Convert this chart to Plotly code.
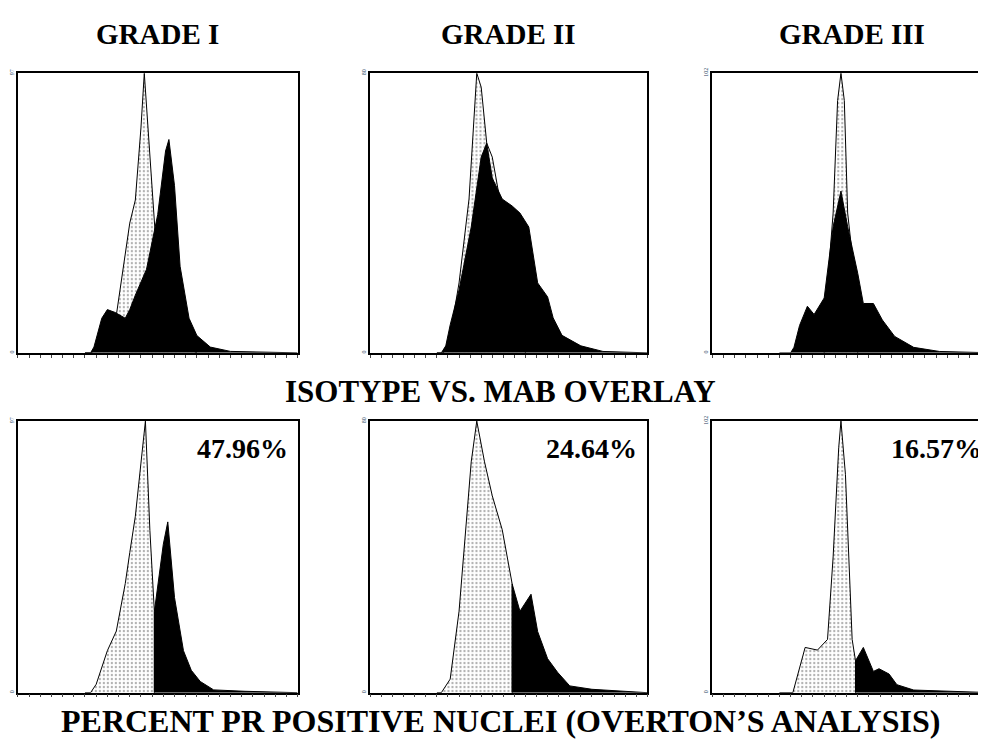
import plotly.graph_objects as go
from plotly.subplots import make_subplots

# ---------- data (channel 0-250, counts) ----------
# row 1: isotype vs MAb overlay
g1_iso_ch = [60, 65, 70, 80, 88, 96, 100, 105, 110, 113, 116, 120, 123, 128, 135, 145, 160]
g1_iso_ct = [0, 0, 1, 8, 13, 34, 45, 53, 78, 97, 80, 60, 40, 20, 8, 3, 0]
g1_mab_ch = [60, 65, 68, 75, 80, 87, 96, 100, 105, 115, 125, 132, 135, 140, 145, 153, 160, 172, 190, 250]
g1_mab_ct = [0, 0, 2, 12, 15, 14, 12, 15, 20, 29, 48, 70, 74, 58, 30, 12, 6, 2, 0.5, 0]

g2_iso_ch = [60, 66, 72, 80, 89, 94, 96, 100, 105, 110, 119, 128, 140]
g2_iso_ct = [0, 0, 5, 20, 44, 68, 80, 76, 60, 56, 40, 38, 0]
g2_mab_ch = [60, 64, 68, 72, 80, 91, 100, 105, 110, 119, 128, 135, 143, 151, 160, 165, 173, 190, 210, 250]
g2_mab_ct = [0, 0, 2, 8, 18, 36, 56, 60, 50, 44, 42, 40, 36, 20, 16, 10, 5, 2, 0.4, 0]

g3_iso_ch = [100, 104, 108, 112, 115, 118, 121, 125, 130]
g3_iso_ct = [0, 30, 51, 92, 102, 92, 51, 36, 0]
g3_mab_ch = [60, 70, 73, 78, 85, 91, 100, 108, 115, 121, 130, 135, 144, 152, 163, 180, 203, 250]
g3_mab_ct = [0, 0, 2, 10, 17, 14, 20, 46, 59, 46, 29, 18, 18, 12, 6, 2, 0.5, 0]

# row 2: Overton subtraction (gate splits negative / positive part)
o1_ch = [60, 65, 70, 80, 88, 96, 100, 105, 110, 114, 118, 122, 130, 134, 140, 148, 155, 163, 175, 203, 250]
o1_ct = [0, 0, 3, 15, 22, 39, 50, 63, 82, 97, 58, 29, 53, 61, 34, 15, 8, 4, 1, 0.5, 0]
o1_gate = 122

o2_ch = [60, 64, 72, 80, 91, 96, 103, 110, 119, 128, 135, 145, 151, 160, 169, 180, 200, 250]
o2_ct = [0, 0, 4, 24, 68, 80, 68, 58, 48, 32, 24, 29, 18, 10, 6, 2, 1, 0]
o2_gate = 128

o3_ch = [60, 72, 83, 94, 103, 108, 113, 115, 119, 125, 128, 135, 144, 149, 158, 165, 180, 250]
o3_ct = [0, 0, 17, 16, 20, 51, 92, 102, 82, 20, 12, 17, 8, 9, 7, 3, 1, 0]
o3_gate = 128

y_max = [97, 80, 102]
titles = ["GRADE I", "GRADE II", "GRADE III"]
percents = ["47.96%", "24.64%", "16.57%"]

SERIF = "Liberation Serif, Times New Roman, serif"
STIPPLE = dict(shape=".", fgcolor="#555555", bgcolor="white", size=4, solidity=0.25)

fig = make_subplots(rows=2, cols=3)


def add_fill(x, y, row, col, black):
    if black:
        fig.add_trace(go.Scatter(x=x, y=y, mode="lines", fill="tozeroy", fillcolor="black",
                                 line=dict(color="black", width=1)), row=row, col=col)
    else:
        fig.add_trace(go.Scatter(x=x, y=y, mode="lines", fill="tozeroy", fillcolor="white",
                                 fillpattern=STIPPLE, line=dict(color="black", width=1)),
                      row=row, col=col)


overlay = [(g1_iso_ch, g1_iso_ct, g1_mab_ch, g1_mab_ct),
           (g2_iso_ch, g2_iso_ct, g2_mab_ch, g2_mab_ct),
           (g3_iso_ch, g3_iso_ct, g3_mab_ch, g3_mab_ct)]
for i, (ic, iy, mc, my) in enumerate(overlay):
    add_fill(ic, iy, 1, i + 1, False)
    add_fill(mc, my, 1, i + 1, True)

overton = [(o1_ch, o1_ct, o1_gate), (o2_ch, o2_ct, o2_gate), (o3_ch, o3_ct, o3_gate)]
for i, (ch, ct, gate) in enumerate(overton):
    k = ch.index(gate)
    add_fill(ch[:k + 1] + [gate], ct[:k + 1] + [0], 2, i + 1, False)
    add_fill([gate] + ch[k:], [0] + ct[k:], 2, i + 1, True)

xdom = [[0.010, 0.294], [0.368, 0.649], [0.715, 0.999]]
ydom = [[0.537, 0.918], [0.074, 0.444]]
for r in range(2):
    for c in range(3):
        fig.update_xaxes(domain=xdom[c], range=[0, 250], showgrid=False, zeroline=False,
                         showline=True, linecolor="black", linewidth=1.5, mirror=True,
                         ticks="outside", ticklen=3, dtick=10, showticklabels=False,
                         row=r + 1, col=c + 1)
        fig.update_yaxes(domain=ydom[r], range=[0, y_max[c]], showgrid=False, zeroline=False,
                         showline=True, linecolor="black", linewidth=1.5, mirror=True,
                         tickvals=[0, y_max[c]], ticks="", tickangle=-90,
                         tickfont=dict(size=6, family=SERIF), row=r + 1, col=c + 1)

ann = []
for c in range(3):
    ann.append(dict(text="<b>%s</b>" % titles[c], x=sum(xdom[c]) / 2, y=0.971,
                    xref="paper", yref="paper", xanchor="center", yanchor="middle",
                    showarrow=False, font=dict(size=29, family=SERIF, color="black")))
    ann.append(dict(text="<b>%s</b>" % percents[c], x=xdom[c][1] - 0.008, y=0.43,
                    xref="paper", yref="paper", xanchor="right", yanchor="top", showarrow=False,
                    font=dict(size=28, family=SERIF, color="black")))
ann.append(dict(text="<b>ISOTYPE VS. MAB OVERLAY</b>", x=0.5, y=0.485, xref="paper", yref="paper",
                xanchor="center", yanchor="middle", showarrow=False,
                font=dict(size=31, family=SERIF, color="black")))
ann.append(dict(text="<b>PERCENT PR POSITIVE NUCLEI (OVERTON\u2019S ANALYSIS)</b>", x=0.5, y=0.036,
                xref="paper", yref="paper", xanchor="center", yanchor="middle", showarrow=False,
                font=dict(size=32, family=SERIF, color="black")))

fig.update_layout(width=986, height=740, margin=dict(l=0, r=0, t=0, b=0),
                  paper_bgcolor="white", plot_bgcolor="white", showlegend=False,
                  annotations=ann)

fig.write_html("out.html")
